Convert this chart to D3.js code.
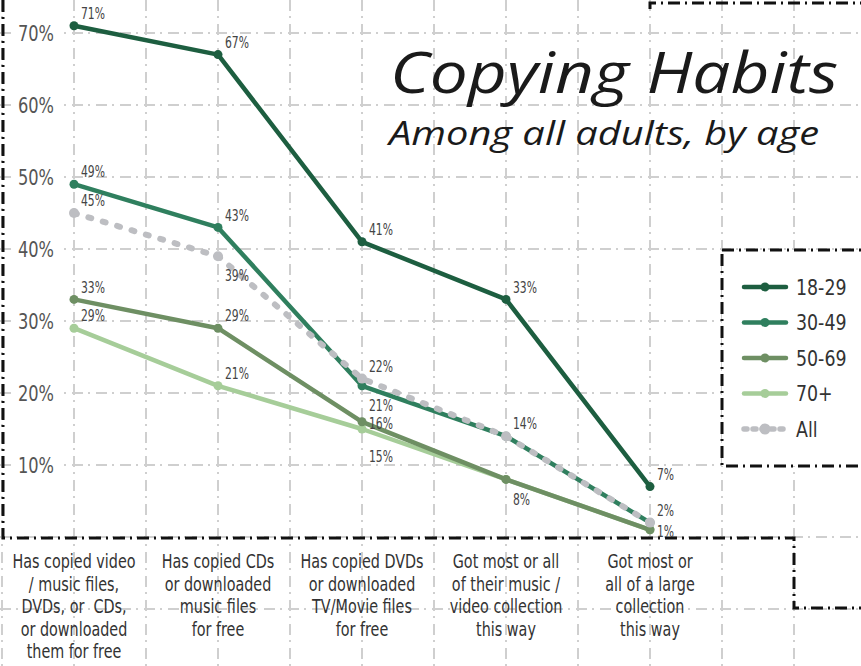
<!DOCTYPE html>
<html>
<head>
<meta charset="utf-8">
<script src="https://cdn.jsdelivr.net/npm/d3@7"></script>
<style>
  body { margin: 0; background: #fff; }
  svg { display: block; }
  .cond { font-family: "Liberation Sans Narrow", "DejaVu Sans Condensed", "Roboto Condensed", sans-serif; font-stretch: condensed; }
</style>
</head>
<body>
<div id="chart"></div>
<script>
// data
const categories = [
  ["Has copied video", "/ music files,", "DVDs, or  CDs,", "or downloaded", "them for free"],
  ["Has copied CDs", "or downloaded", "music files", "for free"],
  ["Has copied DVDs", "or downloaded", "TV/Movie files", "for free"],
  ["Got most or all", "of their music /", "video collection", "this way"],
  ["Got most or", "all of a large", "collection", "this way"]
];
const seriesNames = ["18-29", "30-49", "50-69", "70+", "All"];
const age1829 = [71, 67, 41, 33, 7];
const age3049 = [49, 43, 21, 14, 2];
const age5069 = [33, 29, 16, 8, 1];
const age70 = [29, 21, 15, 8, 1];
const allAdults = [45, 39, 22, 14, 2];
const yTicks = [10, 20, 30, 40, 50, 60, 70];

// where each value label sits: a = above, b = below, bb = further below, r = right, "" = none
const labelPlace = {
  "18-29": ["a", "a", "a", "a", "a"],
  "30-49": ["a", "a", "b", "a", "a"],
  "50-69": ["a", "a", "r", "b", "r"],
  "70+":   ["a", "a", "bb", "", ""],
  "All":   ["a", "b", "a", "", ""]
};
const placeShift = {a: -12, b: 20, bb: 28, r: 2};
const colors = {"18-29": "#1d5e40", "30-49": "#2f7f5e", "50-69": "#6e8f63", "70+": "#a6cd99", "All": "#bdbec2"};

const W = 861, H = 666;
let svg = d3.select("#chart").append("svg").attr("width", W).attr("height", H);

let x = d3.scalePoint().domain(d3.range(categories.length)).range([74, 650]);
let y = d3.scaleLinear().domain([0, 70]).range([537, 33]);
let step = x.step() / 2;

// squeeze text sideways, the font in the picture is a narrow one
function condense(sel, k) {
  sel.each(function () {
    let len = this.getComputedTextLength();
    d3.select(this).attr("textLength", len * k).attr("lengthAdjust", "spacingAndGlyphs");
  });
}

// light dash-dot grid over the whole page
let grid = svg.append("g").attr("stroke", "#cfcfcf").attr("stroke-width", 2).attr("stroke-dasharray", "11,5,2,6");
grid.selectAll(".gx").data(d3.range(-1, 12)).enter().append("line")
    .attr("x1", d => x(0) + d * step).attr("x2", d => x(0) + d * step)
    .attr("y1", 0).attr("y2", H);
grid.selectAll(".gy").data(d3.range(-10, 80, 10)).enter().append("line")
    .attr("y1", d => y(d)).attr("y2", d => y(d))
    .attr("x1", 0).attr("x2", W);

// title
svg.append("text").text("Copying Habits")
    .attr("x", 390).attr("y", 93)
    .attr("textLength", 448).attr("lengthAdjust", "spacingAndGlyphs")
    .style("font-family", "'Open Sans', sans-serif").style("font-style", "italic").style("font-weight", 400)
    .style("font-size", "56px").attr("fill", "#1a1a1a");
svg.append("text").text("Among all adults, by age")
    .attr("x", 389).attr("y", 145)
    .attr("textLength", 430).attr("lengthAdjust", "spacingAndGlyphs")
    .style("font-family", "'Open Sans', sans-serif").style("font-style", "italic").style("font-weight", 400)
    .style("font-size", "32px").attr("fill", "#1a1a1a");

// black dash-dot frames
let frame = svg.append("g").attr("fill", "none").attr("stroke", "#111").attr("stroke-width", 3)
    .attr("stroke-dasharray", "12,5,2,5");
frame.append("path").attr("d", "M3,0 V538 H794 V608 H" + (W + 5));
frame.append("path").attr("d", "M650,9 V3 H" + (W + 5));

// y axis
let yAxis = svg.append("g").attr("class", "cond").attr("transform", "translate(54,0)")
    .call(d3.axisLeft(y).tickValues(yTicks).tickFormat(d => d + "%").tickSize(0).tickPadding(0));
yAxis.select(".domain").remove();
yAxis.selectAll("text").style("font-size", "22px").attr("fill", "#555").attr("font-family", null)
    .call(condense, 0.82);
yAxis.selectAll(".tick").each(function () {
  let t = d3.select(this).select("text");
  let b = t.node().getBBox();
  d3.select(this).insert("rect", "text")
      .attr("x", b.x - 3).attr("y", b.y + 2).attr("width", b.width + 8).attr("height", b.height - 4)
      .attr("fill", "#fff");
});

// category labels
let cats = svg.append("g").attr("class", "cond");
cats.selectAll("text").data(categories).enter().append("text")
    .attr("text-anchor", "middle").attr("fill", "#333").style("font-size", "19px")
    .each(function (lines, i) {
      d3.select(this).selectAll("tspan").data(lines).enter().append("tspan")
          .attr("x", x(i)).attr("y", (d, j) => 568 + j * 22.5)
          .style("white-space", "pre")
          .text(d => d);
    });
cats.selectAll("tspan").call(condense, 0.84);

// lines
let seriesData = {"18-29": age1829, "30-49": age3049, "50-69": age5069, "70+": age70, "All": allAdults};
let drawOrder = ["70+", "50-69", "30-49", "18-29", "All"];
let line = d3.line().x((d, i) => x(i)).y(d => y(d));

drawOrder.forEach(function (name) {
  let vals = seriesData[name];
  let g = svg.append("g");
  let isAll = name === "All";
  g.append("path").datum(vals).attr("d", line)
      .attr("fill", "none").attr("stroke", colors[name])
      .attr("stroke-width", isAll ? 6 : 4.5)
      .attr("stroke-linecap", "round").attr("stroke-linejoin", "round")
      .attr("stroke-dasharray", isAll ? "3,12" : null);
  g.selectAll("circle").data(vals).enter().append("circle")
      .attr("cx", (d, i) => x(i)).attr("cy", d => y(d))
      .attr("r", isAll ? 5 : 4.5).attr("fill", colors[name]);
});

// value labels
let labels = svg.append("g").attr("class", "cond");
seriesNames.forEach(function (name) {
  let vals = seriesData[name];
  let place = labelPlace[name];
  labels.selectAll(".l" + name.replace(/\W/g, "")).data(vals.map((v, i) => [v, i])).enter()
      .filter(d => place[d[1]] !== "")
      .append("text")
      .attr("x", d => x(d[1]) + 7)
      .attr("y", d => y(d[0]) + placeShift[place[d[1]]])
      .attr("dy", "0.35em").attr("fill", "#444").style("font-size", "15px")
      .text(d => d[0] + "%");
});
labels.selectAll("text").call(condense, 0.8);

// legend
let legend = svg.append("g");
legend.append("rect").attr("x", 722).attr("y", 250).attr("width", 200).attr("height", 216)
    .attr("fill", "#fff").attr("stroke", "#111").attr("stroke-width", 3)
    .attr("stroke-dasharray", "12,5,2,5");
let items = legend.selectAll(".item").data(seriesNames).enter().append("g")
    .attr("transform", (d, i) => "translate(0," + (287 + i * 35.5) + ")");
items.append("line").attr("x1", 744).attr("x2", 786).attr("y1", 0).attr("y2", 0)
    .attr("stroke", d => colors[d])
    .attr("stroke-width", d => d === "All" ? 5.5 : 4.5)
    .attr("stroke-linecap", "round")
    .attr("stroke-dasharray", d => d === "All" ? "3,6" : null);
items.append("circle").attr("cx", 765).attr("cy", 0).attr("r", d => d === "All" ? 5.5 : 4.5)
    .attr("fill", d => colors[d]);
items.append("text").attr("class", "cond").attr("x", 796).attr("dy", "0.36em")
    .style("font-size", "21px").attr("fill", "#333").text(d => d)
    .call(condense, 0.92);
</script>
</body>
</html>
